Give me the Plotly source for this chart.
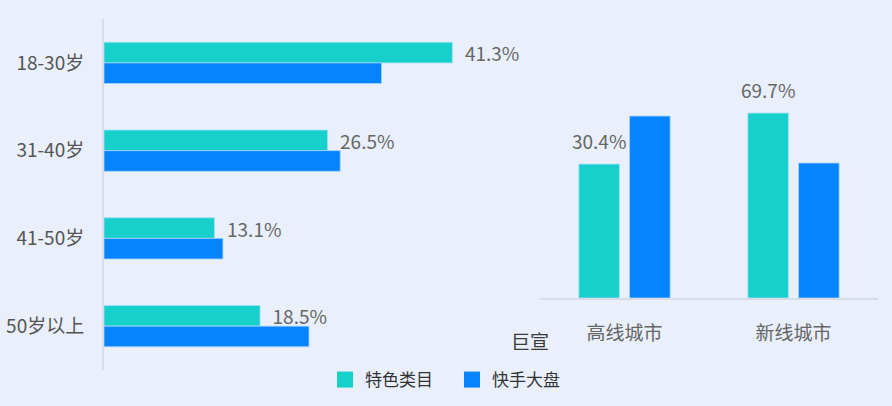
import plotly.graph_objects as go

# age groups (left chart)
ages = ["18-30岁", "31-40岁", "41-50岁", "50岁以上"]
age_special = [41.3, 26.5, 13.1, 18.5]   # 特色类目
age_kuaishou = [32.9, 28.0, 14.1, 24.3]  # 快手大盘 (no labels in source, estimated)

# city tiers (right chart)
cities = ["高线城市", "新线城市"]
city_special = [30.4, 69.7]
city_kuaishou = [67.4, 31.2]

series_names = ["特色类目", "快手大盘"]
TEAL = "#17CFCB"
BLUE = "#0683FF"
BG = "#E9F0FB"
FONT = "Noto Sans CJK SC"
LABEL_GRAY = "#666666"

# the source's right chart is not zero based
CITY_FLOOR = -72.8
CITY_TOP = 95.2

fig = go.Figure()

fig.add_trace(go.Bar(
    y=ages, x=age_special, orientation="h", name=series_names[0],
    marker=dict(color=TEAL, line=dict(color="rgba(160,225,255,0.8)", width=1)),
    text=[f"\u2002{v}%" for v in age_special], textposition="outside", constraintext="none",
    textfont=dict(size=19, color=LABEL_GRAY, family=FONT),
    cliponaxis=False, showlegend=False, xaxis="x", yaxis="y",
))
fig.add_trace(go.Bar(
    y=ages, x=age_kuaishou, orientation="h", name=series_names[1],
    marker=dict(color=BLUE, line=dict(color="rgba(160,210,255,0.8)", width=1)),
    showlegend=False, xaxis="x", yaxis="y",
))

fig.add_trace(go.Bar(
    x=cities, y=[v - CITY_FLOOR for v in city_special], base=CITY_FLOOR,
    name=series_names[0], width=0.24, offset=-0.27,
    marker=dict(color=TEAL, line=dict(color="rgba(160,225,255,0.8)", width=1)),
    showlegend=False, xaxis="x2", yaxis="y2",
))
fig.add_trace(go.Bar(
    x=cities, y=[v - CITY_FLOOR for v in city_kuaishou], base=CITY_FLOOR,
    name=series_names[1], width=0.24, offset=0.03,
    marker=dict(color=BLUE, line=dict(color="rgba(160,210,255,0.8)", width=1)),
    showlegend=False, xaxis="x2", yaxis="y2",
))

# value labels above the teal city bars
for i, v in enumerate(city_special):
    fig.add_annotation(
        x=i - 0.15, y=v, xref="x2", yref="y2", yshift=24,
        text=f"{v}%", showarrow=False,
        font=dict(size=19, color=LABEL_GRAY, family=FONT),
    )

# legend entries
for name, col in zip(series_names, [TEAL, BLUE]):
    fig.add_trace(go.Scatter(
        x=[None], y=[None], mode="markers", name=name,
        marker=dict(symbol="square", size=19, color=col),
        xaxis="x", yaxis="y",
    ))

fig.add_annotation(
    text="巨宣", x=530 / 892, y=1 - 356 / 406, xref="paper", yref="paper",
    showarrow=False, font=dict(size=19, color="#3a3a3a", family=FONT),
)

fig.update_layout(
    width=892, height=406,
    margin=dict(l=0, r=0, t=0, b=0),
    paper_bgcolor=BG, plot_bgcolor=BG,
    font=dict(family=FONT, color="#555555"),
    barmode="group", bargap=0.53, bargroupgap=0,
    legend=dict(
        orientation="h", x=0.5067, xanchor="center", y=1 - 380 / 406, yanchor="middle",
        font=dict(size=17, color="#333333", family=FONT),
        itemwidth=30, entrywidth=82, bgcolor="rgba(0,0,0,0)",
    ),
    xaxis=dict(
        domain=[104 / 892, 530 / 892], range=[0, 50.5],
        showgrid=False, zeroline=False, showticklabels=False, fixedrange=True,
    ),
    yaxis=dict(
        domain=[1 - 370 / 406, 1 - 19 / 406], autorange="reversed",
        showgrid=False, zeroline=False, showline=True, linecolor="#D6DDE6", linewidth=2,
        ticks="", ticklabelstandoff=14,
        tickfont=dict(size=19, color="#555555", family=FONT),
    ),
    xaxis2=dict(
        domain=[540 / 892, 878 / 892], range=[-0.5, 1.5], anchor="y2",
        showgrid=False, zeroline=False, showline=True, linecolor="#D6DDE6", linewidth=2,
        ticks="", ticklabelstandoff=17,
        tickfont=dict(size=19, color=LABEL_GRAY, family=FONT),
    ),
    yaxis2=dict(
        domain=[1 - 298 / 406, 1 - 80 / 406], range=[CITY_FLOOR, CITY_TOP], anchor="x2",
        showgrid=False, zeroline=False, showticklabels=False,
    ),
)

fig.write_html(
    "out.html",
    config={"displayModeBar": False},
    post_script="document.body.style.margin='0';",
)
